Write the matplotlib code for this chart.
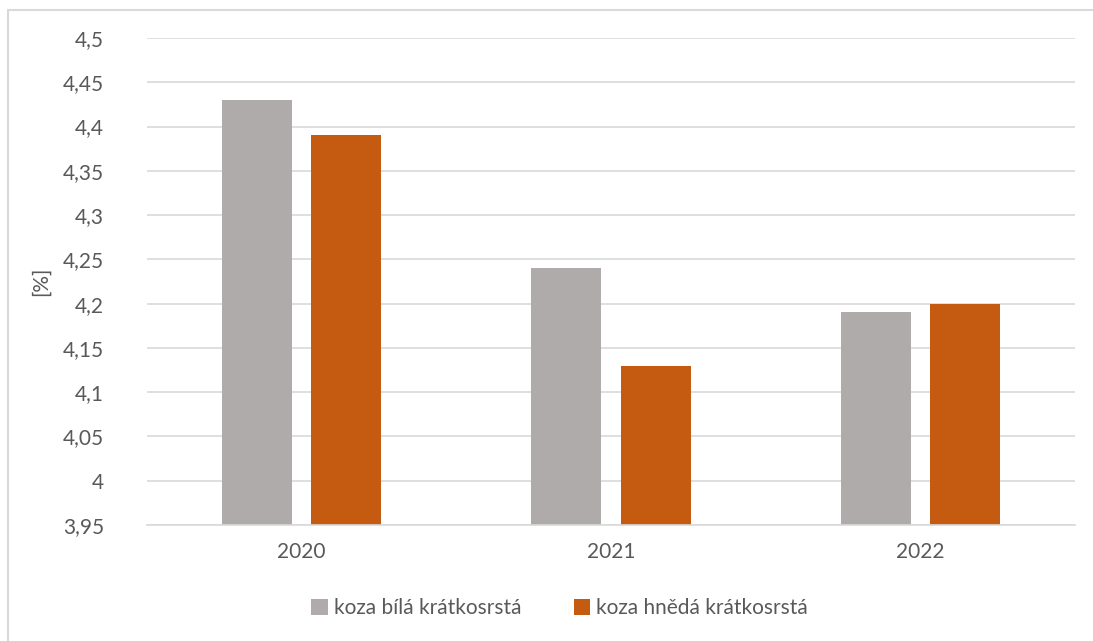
import numpy as np
import matplotlib.pyplot as plt
from matplotlib.patches import Rectangle
from matplotlib.ticker import FuncFormatter

plt.rcParams['font.family'] = ['Lato', 'DejaVu Sans']

years = ['2020', '2021', '2022']
bila = [4.43, 4.24, 4.19]
hneda = [4.39, 4.13, 4.20]
series_names = ['koza bílá krátkosrstá', 'koza hnědá krátkosrstá']
yticks = np.arange(3.95, 4.501, 0.05)

text_color = '#595959'
grid_color = '#d9d9d9'

fig = plt.figure(figsize=(10.93, 6.41), dpi=100)
fig.patches.append(Rectangle((8 / 1093, -0.1), 1.2, 1 - 10 / 641 + 0.1,
                             transform=fig.transFigure, fill=False,
                             edgecolor='#d9d9d9', linewidth=1.5))
ax = fig.add_axes([147 / 1093, 1 - 525 / 641, (1075 - 147) / 1093, (525 - 38) / 641])

x = np.arange(len(years))
w = 0.226
ax.bar(x - 0.1446, bila, width=w, color='#afabab', label=series_names[0], zorder=2)
ax.bar(x + 0.1446, hneda, width=w, color='#c55a11', label=series_names[1], zorder=2)

ax.set_xlim(-0.5, 2.5)
ax.set_ylim(3.95, 4.5)
ax.set_yticks(yticks)
ax.yaxis.set_major_formatter(FuncFormatter(lambda v, p: f'{v:.2f}'.rstrip('0').rstrip('.').replace('.', ',')))
ax.set_xticks(x)
ax.set_xticklabels(years)
ax.grid(axis='y', color=grid_color, linewidth=1.2, zorder=0)
for s in ['top', 'right', 'left']:
    ax.spines[s].set_visible(False)
ax.spines['bottom'].set_color(grid_color)
ax.spines['bottom'].set_linewidth(1.2)
ax.tick_params(length=0, labelsize=15, colors=text_color)
ax.tick_params(axis='y', pad=31)
ax.tick_params(axis='x', pad=12)
ax.set_ylabel('[%]', fontsize=15, color=text_color)
ax.yaxis.set_label_coords(-0.104, 0.5)

fig.legend(loc='center', bbox_to_anchor=(0.512, 1 - 608 / 641), ncol=2, frameon=False,
           fontsize=15, labelcolor=text_color, handlelength=0.8, handleheight=0.8,
           handletextpad=0.3, columnspacing=2.5)

fig.savefig('out.png', dpi=100)
